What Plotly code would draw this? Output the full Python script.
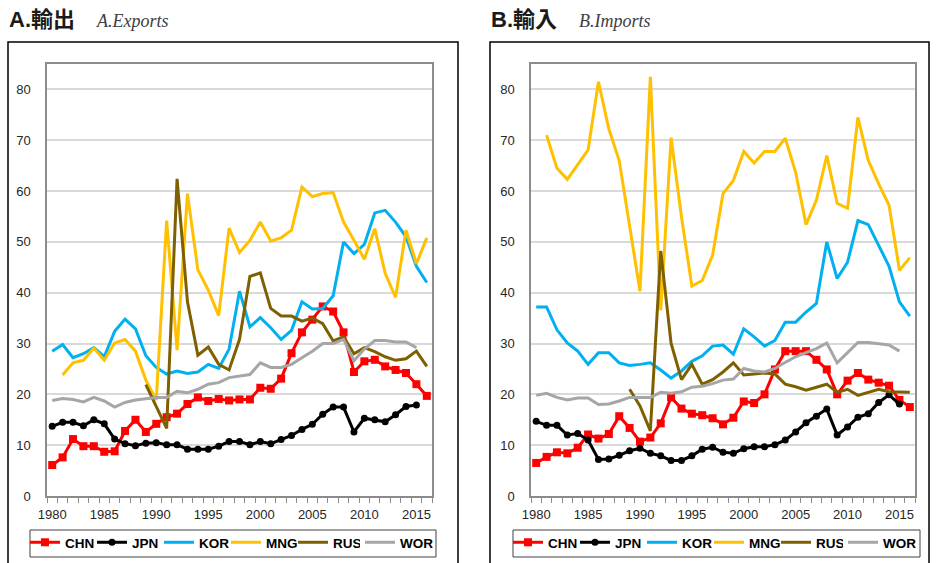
import plotly.graph_objects as go

years = list(range(1980, 2017))
series_names = ["CHN", "JPN", "KOR", "MNG", "RUS", "WOR"]
tick_years = [1980, 1985, 1990, 1995, 2000, 2005, 2010, 2015]
y_ticks = [0, 10, 20, 30, 40, 50, 60, 70, 80]
N = None

# A. Exports
chn_exp = [6.1, 7.6, 11.2, 9.8, 9.8, 8.7, 8.8, 12.8, 15.0, 12.6,
           14.2, 15.5, 16.2, 18.1, 19.4, 18.7, 19.1, 18.8, 19.0, 19.0,
           21.3, 21.1, 23.1, 28.1, 32.2, 34.7, 37.3, 36.3, 32.2, 24.4,
           26.5, 26.8, 25.5, 24.8, 24.2, 22.0, 19.7]
jpn_exp = [13.7, 14.5, 14.5, 13.8, 15.0, 14.2, 11.2, 10.3, 9.9, 10.4,
           10.5, 10.1, 10.1, 9.2, 9.2, 9.2, 9.8, 10.7, 10.7, 10.1,
           10.7, 10.3, 11.1, 11.9, 13.1, 14.1, 16.1, 17.5, 17.5, 12.6,
           15.3, 15.0, 14.6, 16.0, 17.6, 17.9, N]
kor_exp = [28.5, 29.8, 27.2, 28.0, 29.2, 27.4, 32.4, 34.8, 32.9, 27.6,
           25.3, 24.0, 24.6, 24.1, 24.4, 25.9, 25.1, 28.9, 40.3, 33.3,
           35.1, 33.1, 30.8, 32.6, 38.2, 36.8, 36.9, 39.4, 50.0, 47.7,
           49.5, 55.7, 56.2, 53.9, 51.0, 45.2, 42.0]
mng_exp = [N, 23.8, 26.2, 26.7, 29.1, 26.7, 30.1, 30.8, 28.5, 22.8,
           18.9, 54.2, 28.7, 59.5, 44.5, 40.5, 35.5, 52.7, 47.9, 50.3,
           53.9, 50.2, 50.8, 52.3, 60.8, 58.9, 59.5, 59.7, 53.9, 50.3,
           46.6, 52.6, 43.8, 39.1, 52.3, 45.7, 50.8]
rus_exp = [N, N, N, N, N, N, N, N, N, 21.9,
           17.5, 13.3, 62.4, 38.2, 27.7, 29.3, 25.9, 24.8, 30.8, 43.2,
           43.9, 36.9, 35.4, 35.4, 34.4, 35.0, 33.9, 30.5, 31.3, 28.0,
           29.2, 28.4, 27.4, 26.7, 27.0, 28.5, 25.5]
wor_exp = [18.8, 19.2, 19.0, 18.5, 19.4, 18.7, 17.5, 18.4, 18.9, 19.1,
           19.4, 19.4, 20.6, 20.3, 21.0, 22.0, 22.3, 23.3, 23.6, 23.9,
           26.2, 25.3, 25.3, 25.9, 27.2, 28.5, 30.0, 30.0, 30.8, 26.6,
           28.9, 30.6, 30.6, 30.3, 30.3, 29.2, N]

# B. Imports
chn_imp = [6.5, 7.7, 8.6, 8.4, 9.5, 12.1, 11.3, 12.2, 15.7, 13.4,
           10.7, 11.5, 14.3, 19.4, 17.2, 16.2, 15.9, 15.3, 14.1, 15.4,
           18.6, 18.3, 20.0, 24.9, 28.5, 28.5, 28.5, 26.8, 24.9, 20.0,
           22.7, 24.2, 22.9, 22.3, 21.7, 18.9, 17.5]
jpn_imp = [14.7, 13.9, 13.9, 12.0, 12.3, 11.0, 7.2, 7.3, 8.0, 8.9,
           9.4, 8.4, 7.9, 7.0, 7.0, 7.9, 9.2, 9.6, 8.6, 8.4,
           9.3, 9.7, 9.7, 10.1, 11.0, 12.6, 14.4, 15.7, 17.1, 12.0,
           13.6, 15.5, 16.2, 18.4, 19.9, 18.1, N]
kor_imp = [37.2, 37.2, 32.7, 30.1, 28.5, 25.9, 28.2, 28.2, 26.2, 25.7,
           25.9, 26.2, 24.8, 23.2, 24.6, 26.5, 27.6, 29.5, 29.7, 27.9,
           32.9, 31.3, 29.5, 30.6, 34.2, 34.2, 36.2, 37.9, 50.0, 42.8,
           46.0, 54.2, 53.4, 49.3, 45.2, 38.2, 35.4]
mng_imp = [N, 71.0, 64.5, 62.3, 65.2, 68.1, 81.5, 72.2, 66.0, 53.6,
           40.3, 82.5, 36.5, 70.5, 54.9, 41.3, 42.4, 47.4, 59.5, 62.1,
           67.8, 65.5, 67.8, 67.8, 70.4, 63.7, 53.4, 58.2, 67.0, 57.6,
           56.6, 74.5, 66.0, 61.4, 57.2, 44.4, 46.9]
rus_imp = [N, N, N, N, N, N, N, N, N, 21.0,
           17.7, 12.8, 48.2, 30.0, 22.9, 25.9, 22.0, 22.9, 24.4, 26.2,
           23.8, 24.0, 24.2, 24.0, 22.0, 21.5, 20.8, 21.4, 22.0, 20.4,
           21.0, 19.8, 20.4, 21.0, 20.5, 20.4, 20.4]
wor_imp = [19.8, 20.2, 19.4, 18.9, 19.3, 19.3, 18.0, 18.1, 18.7, 19.4,
           19.4, 19.4, 20.4, 20.2, 20.5, 21.4, 21.6, 22.1, 22.8, 23.0,
           25.1, 24.6, 24.4, 25.1, 26.3, 27.4, 28.2, 29.0, 30.1, 26.2,
           28.2, 30.2, 30.2, 29.9, 29.7, 28.5, N]

W, H = 936, 563
colors = {"CHN": "#FF0000", "JPN": "#000000", "KOR": "#00B0F0",
          "MNG": "#FFC000", "RUS": "#7F6000", "WOR": "#A6A6A6"}
markers = {"CHN": dict(symbol="square", size=8),
           "JPN": dict(symbol="circle", size=7)}

fig = go.Figure()
panels = [
    ("x", "y", ("legend", "legend3"), [chn_exp, jpn_exp, kor_exp, mng_exp, rus_exp, wor_exp]),
    ("x2", "y2", ("legend2", "legend4"), [chn_imp, jpn_imp, kor_imp, mng_imp, rus_imp, wor_imp]),
]
for xa, ya, lgs, data in panels:
    for name, vals in zip(series_names, data):
        mk = markers.get(name)
        fig.add_trace(go.Scatter(
            x=years, y=vals, name=name, xaxis=xa, yaxis=ya,
            legend=lgs[1] if name == "WOR" else lgs[0],
            mode="lines+markers" if mk else "lines",
            line=dict(color=colors[name], width=3),
            marker=dict(color=colors[name], **mk) if mk else None,
            connectgaps=False, hoverinfo="x+y+name",
        ))

def px_x(p):
    return p / W

def px_y(p):
    return 1 - p / H

axis_line = "#8C8C8C"
tickfont = dict(family="Liberation Sans, Arial, sans-serif", size=13, color="#262626")

def xaxis_cfg(left, right, anchor):
    return dict(
        domain=[px_x(left), px_x(right)], range=[1979.5, 2016.5], anchor=anchor,
        tickmode="array", tickvals=tick_years, ticks="", showgrid=False,
        showline=True, linecolor=axis_line, linewidth=1.5, mirror=True,
        zeroline=False, tickfont=tickfont, ticklabelstandoff=6,
        minor=dict(tickmode="array", tickvals=[1979.5 + i for i in range(38)],
                   ticks="outside", ticklen=5, tickcolor=axis_line, tickwidth=1,
                   showgrid=False),
    )

def yaxis_cfg(anchor):
    return dict(
        domain=[px_y(496), px_y(64)], range=[0, 85], anchor=anchor,
        tickmode="array", tickvals=y_ticks, ticks="", showgrid=True,
        gridcolor="#D9D9D9", gridwidth=1.5, showline=True, linecolor=axis_line,
        linewidth=1.5, mirror=True, zeroline=False, tickfont=tickfont,
        ticklabelstandoff=12,
    )

legend_common = dict(
    orientation="h", xanchor="left", yanchor="top", y=px_y(527),
    borderwidth=0, bgcolor="rgba(0,0,0,0)",
    font=dict(family="Liberation Sans, Arial, sans-serif", size=13.5,
              color="#000000", weight="bold"),
    entrywidth=22, entrywidthmode="pixels", itemwidth=30, tracegroupgap=0,
    traceorder="normal",
)
legend_last = dict(legend_common, entrywidth=40)

fig.update_layout(
    width=W, height=H, margin=dict(l=0, r=0, t=0, b=0, autoexpand=False),
    paper_bgcolor="white", plot_bgcolor="white", showlegend=True,
    xaxis=xaxis_cfg(47, 432, "y"), yaxis=yaxis_cfg("x"),
    xaxis2=xaxis_cfg(531, 915, "y2"), yaxis2=yaxis_cfg("x2"),
    legend=dict(x=px_x(25), **legend_common),
    legend3=dict(x=px_x(360), **legend_last),
    legend2=dict(x=px_x(508), **legend_common),
    legend4=dict(x=px_x(843), **legend_last),
    shapes=[
        dict(type="rect", xref="paper", yref="paper", x0=px_x(8), x1=px_x(458),
             y0=-0.2, y1=px_y(42), line=dict(color="#000000", width=1.5)),
        dict(type="rect", xref="paper", yref="paper", x0=px_x(490), x1=px_x(929),
             y0=-0.2, y1=px_y(42), line=dict(color="#000000", width=1.5)),
        dict(type="rect", xref="paper", yref="paper", x0=px_x(30), x1=px_x(436),
             y0=px_y(557), y1=px_y(530), line=dict(color="#404040", width=1)),
        dict(type="rect", xref="paper", yref="paper", x0=px_x(513), x1=px_x(920),
             y0=px_y(557), y1=px_y(530), line=dict(color="#404040", width=1)),
    ],
    annotations=[
        dict(text="<b>A.輸出</b>", x=px_x(7), y=px_y(20), xref="paper", yref="paper",
             xanchor="left", yanchor="middle", showarrow=False,
             font=dict(family="Liberation Sans, Noto Sans CJK JP, sans-serif", size=22, color="#1A1A1A")),
        dict(text="<i>A.Exports</i>", x=px_x(94), y=px_y(21), xref="paper", yref="paper",
             xanchor="left", yanchor="middle", showarrow=False,
             font=dict(family="Liberation Serif, serif", size=18, color="#404040")),
        dict(text="<b>B.輸入</b>", x=px_x(489), y=px_y(20), xref="paper", yref="paper",
             xanchor="left", yanchor="middle", showarrow=False,
             font=dict(family="Liberation Sans, Noto Sans CJK JP, sans-serif", size=22, color="#1A1A1A")),
        dict(text="<i>B.Imports</i>", x=px_x(577), y=px_y(21), xref="paper", yref="paper",
             xanchor="left", yanchor="middle", showarrow=False,
             font=dict(family="Liberation Serif, serif", size=18, color="#404040")),
    ],
)

fig.write_html("out.html", config={"displayModeBar": False},
               post_script="document.body.style.margin='0';document.body.style.overflow='hidden';")
